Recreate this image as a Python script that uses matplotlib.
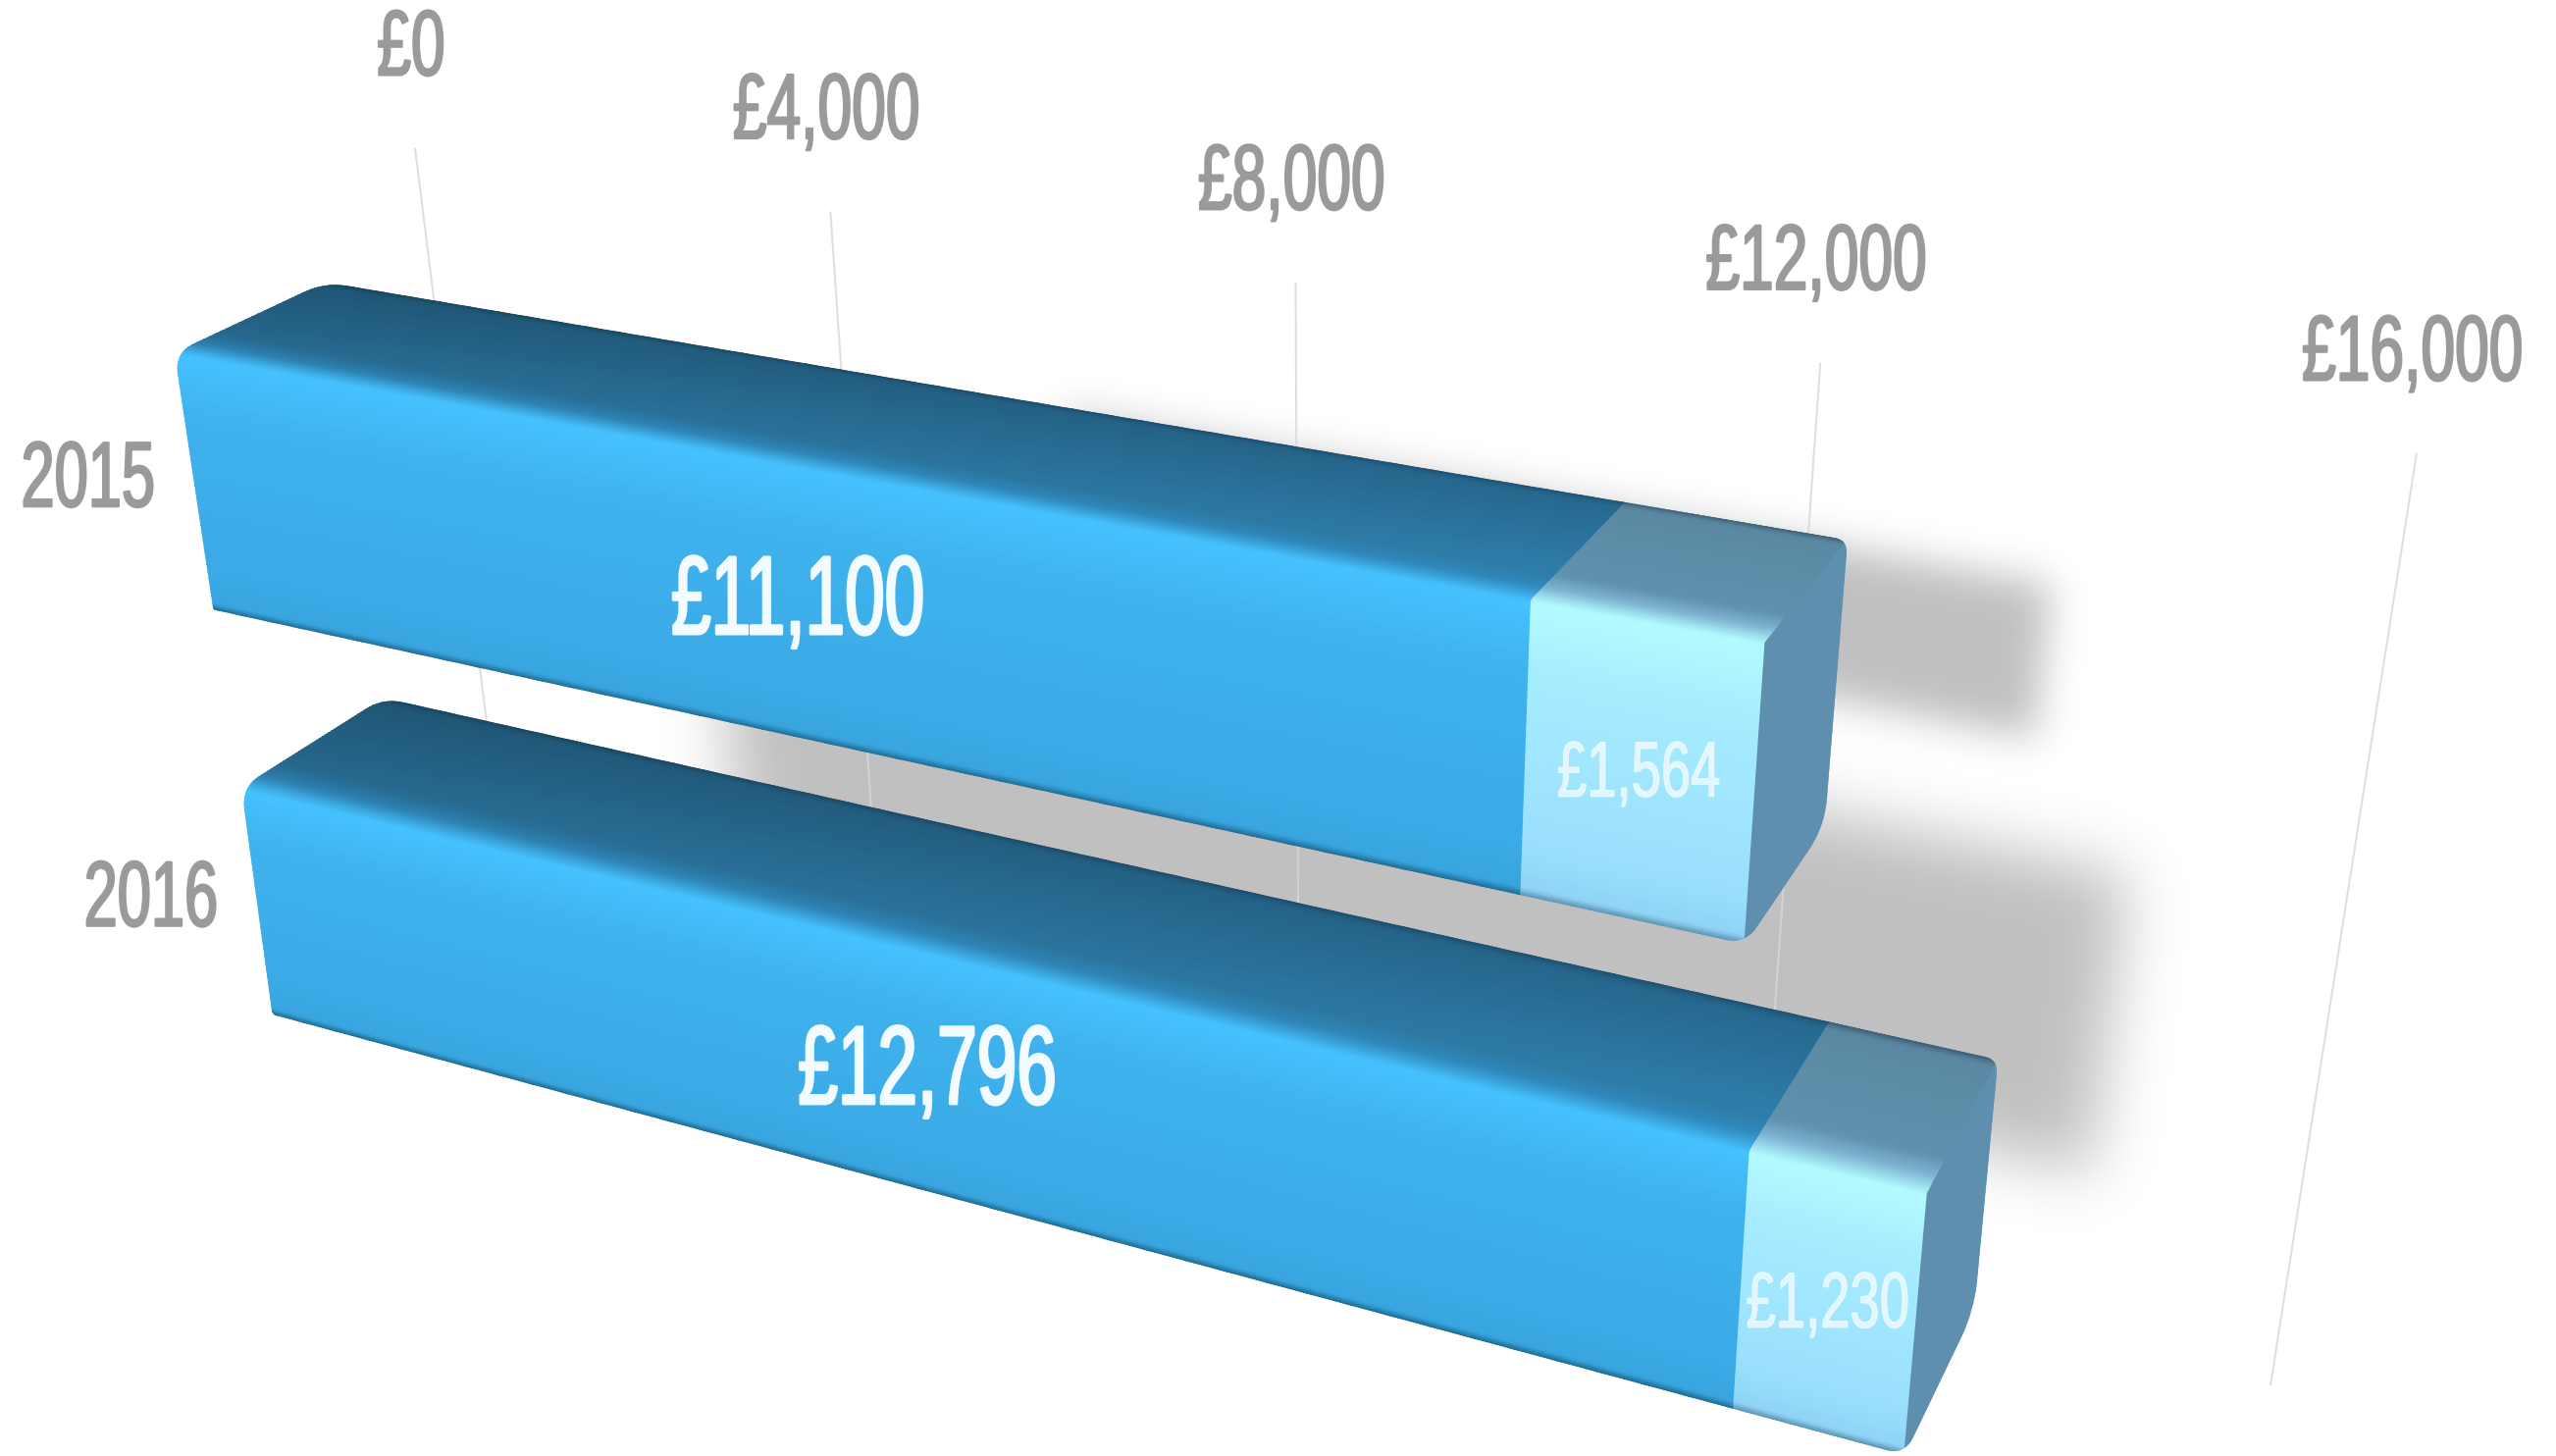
import numpy as np
import matplotlib
matplotlib.use("Agg")
import matplotlib.pyplot as plt
from matplotlib.colors import to_rgb
from matplotlib.patches import Polygon, PathPatch
from matplotlib.path import Path
from matplotlib.patheffects import AbstractPathEffect
from matplotlib.text import Text
from matplotlib.transforms import Affine2D, Bbox

# chart values
years = ["2015", "2016"]
base_values = [11100, 12796]
extra_values = [1564, 1230]
base_labels = ["£11,100", "£12,796"]
extra_labels = ["£1,564", "£1,230"]
axis_ticks = [0, 4000, 8000, 12000, 16000]
axis_labels = ["£0", "£4,000", "£8,000", "£12,000", "£16,000"]

W, H = 2605, 1484
FONT = ["Liberation Sans", "DejaVu Sans"]
GREY = "#9a9a9a"

# view: where the box corners of each bar land on screen (v, depth, row) -> pixel
# the order is v=0, v=base, v=total, front top / front bottom / back top
BAR_VIEW = [
    [(178, 358), (217, 625), (332, 285),
     (1562, 612), (1548, 912), (1650, 514),
     (1804, 653), (1774, 961), (1883, 554), (1866, 840)],
    [(246, 803), (278, 1036), (390, 708),
     (1785, 1168), (1764, 1440), (1859, 1051),
     (1969, 1213), (1937, 1484), (2036, 1082), (2018, 1328)],
]
# back wall: (value, t) -> pixel, t=0 at top of the gridlines
WALL_VIEW = [(0, 0, 423, 151), (16, 0, 2463, 462), (16, 1, 2314, 1412), (0, 1, 523, 953)]
# shadows on the wall: start value, overshoot past total, t range, blur
SHADOW_VIEW = [(6.0, 1.1, 0.180, 0.340, 20), (2.6, 0.5, 0.462, 0.805, 32)]
CORNER_RADII = [22, 22, 14, 30, 20, 3]

# colour profile across top face and front face
STOPS = [0, 0.02, 0.30, 0.35, 0.405, 0.54, 0.90, 0.985, 1.0]
DARK_COLORS = ["#1d4a66", "#235f82", "#2a739c", "#2f85b6", "#45c2ff", "#3fb3ee", "#3baae6", "#38a5df", "#1f6a90"]
LIGHT_COLORS = ["#3d5d72", "#5a88a2", "#6092ad", "#7db3d2", "#b3fbff", "#a7edff", "#99dffd", "#8fd4f6", "#5d93b0"]
SIDE_COLOR = "#5f8fae"


def fit_view(src, dst):
    # plain DLT, gives a projective matrix from model points to pixels
    rows = []
    for p, q in zip(src, dst):
        a = list(p) + [1.0]
        x, y = q[0] / 1000.0, q[1] / 1000.0
        zeros = [0.0] * len(a)
        rows.append(a + zeros + [-x * c for c in a])
        rows.append(zeros + a + [-y * c for c in a])
    vt = np.linalg.svd(np.array(rows))[2]
    return vt[-1].reshape(3, len(src[0]) + 1)


def project(m, *coords):
    coords = [np.asarray(c, dtype=float) for c in coords]
    coords = np.broadcast_arrays(*coords)
    pts = np.stack(list(coords) + [np.ones_like(coords[0])], axis=-1)
    out = pts @ m.T
    return out[..., 0] / out[..., 2] * 1000, out[..., 1] / out[..., 2] * 1000


def profile_colors(s, colors):
    rgb = np.array([to_rgb(c) for c in colors])
    return np.stack([np.interp(s, STOPS, rgb[:, i]) for i in range(3)], axis=-1)


class Condense(AbstractPathEffect):
    # the labels use a very narrow heavy face, squeeze and thicken around the anchor
    def __init__(self, sx, weight, text):
        super().__init__()
        self.sx = sx
        self.weight = weight
        self.text = text

    def draw_path(self, renderer, gc, tpath, affine, rgbFace=None):
        cx = self.text.get_transform().transform(self.text.get_position())[0]
        squeeze = Affine2D().translate(-cx, 0).scale(self.sx, 1).translate(cx, 0)
        gc0 = renderer.new_gc()
        gc0.copy_properties(gc)
        gc0.set_linewidth(self.weight)
        gc0.set_foreground(rgbFace)
        renderer.draw_path(gc0, tpath, affine + squeeze, rgbFace)
        gc0.restore()


class NarrowText(Text):
    sx = 1.0

    def get_window_extent(self, renderer=None, dpi=None):
        box = super().get_window_extent(renderer, dpi)
        width = box.width * self.sx
        ha = self.get_ha()
        if ha == "left":
            x0 = box.x0
        elif ha == "right":
            x0 = box.x1 - width
        else:
            x0 = (box.x0 + box.x1 - width) / 2
        return Bbox([[x0, box.y0], [x0 + width, box.y1]])


def label(ax, x, y, txt, size, color, sx, weight, alpha=1.0, zorder=10):
    t = NarrowText(x, y, txt, fontsize=size, color=color, ha="center", va="center",
                   family=FONT, zorder=zorder, alpha=alpha)
    t.sx = sx
    t.set_path_effects([Condense(sx, weight, t)])
    ax.add_artist(t)
    # unsqueezed text would stick out of the figure near the edges, anchor it on the inner side
    natural = Text.get_window_extent(t, fig.canvas.get_renderer())
    half = natural.width * sx / 2
    if natural.x0 < 0:
        t.set_ha("left")
        t.set_x(x - half)
    elif natural.x1 > W:
        t.set_ha("right")
        t.set_x(x + half)
    return t


def rounded_outline(points, radii):
    # closed path with the corners cut by small curves
    points = [np.array(p, dtype=float) for p in points]
    verts, codes = [], []
    n = len(points)
    for k in range(n):
        p, prev, nxt = points[k], points[k - 1], points[(k + 1) % n]
        a = p + (prev - p) / np.linalg.norm(prev - p) * radii[k]
        b = p + (nxt - p) / np.linalg.norm(nxt - p) * radii[k]
        verts += [a, p, b]
        codes += [Path.MOVETO if k == 0 else Path.LINETO, Path.CURVE3, Path.CURVE3]
    verts.append(verts[0])
    codes.append(Path.CLOSEPOLY)
    return Path(np.array(verts), codes)


def draw_face(ax, m, v0, v1, colors, zorder, clip, ramp=0.0):
    v = np.linspace(v0, v1, 40)
    s = np.linspace(0, 1, 120)
    vv, ss = np.meshgrid(v, s)
    # top face runs back to front for s<0.4, front face top to bottom after
    depth = np.clip((0.4 - ss) / 0.4, 0, 1)
    row = np.where(ss < 0.4, 1.0, (1 - ss) / 0.6)
    px, py = project(m, vv, depth, row)
    rgb = profile_colors(ss, colors)
    # the top face gets a bit brighter towards the far end
    lift = 1 + ramp * ((vv - v0) / (v1 - v0) - 0.5) * np.clip((0.38 - ss) / 0.1, 0, 1)
    rgb = np.clip(rgb * lift[..., None], 0, 1)
    mesh = ax.pcolormesh(px, py, rgb, shading="gouraud", zorder=zorder, antialiased=True)
    mesh.set_clip_path(clip)


def blur(a, sigma):
    n = int(sigma * 3)
    kernel = np.exp(-0.5 * (np.arange(-n, n + 1) / sigma) ** 2)
    kernel /= kernel.sum()
    a = np.apply_along_axis(lambda r: np.convolve(r, kernel, mode="same"), 0, a)
    return np.apply_along_axis(lambda r: np.convolve(r, kernel, mode="same"), 1, a)


fig = plt.figure(figsize=(W / 100, H / 100), dpi=100, facecolor="white")
ax = fig.add_axes([0, 0, 1, 1])
ax.set_axis_off()
ax.set_xlim(0, W)
ax.set_ylim(H, 0)

wall = fit_view([p[:2] for p in WALL_VIEW], [p[2:] for p in WALL_VIEW])

# shadows
step = 4
gx, gy = np.meshgrid(np.arange(0, W, step) + step / 2, np.arange(0, H, step) + step / 2)
grid = np.column_stack([gx.ravel(), gy.ravel()])
alpha = np.zeros(gx.shape)
for base, extra, (start, over, t0, t1, sigma) in zip(base_values, extra_values, SHADOW_VIEW):
    end = (base + extra) / 1000 + over
    sx, sy = project(wall, [start, end, end, start], [t0, t0, t1, t1])
    mask = Path(np.column_stack([sx, sy])).contains_points(grid).reshape(gx.shape)
    alpha = np.maximum(alpha, blur(mask.astype(float), sigma / step))
rgba = np.zeros(gx.shape + (4,))
rgba[..., 3] = alpha * 0.25
ax.imshow(rgba, extent=[0, W, H, 0], zorder=1, aspect="auto", interpolation="bilinear")
ax.set_xlim(0, W)
ax.set_ylim(H, 0)

# gridlines and axis labels
for tick, txt in zip(axis_ticks, axis_labels):
    lx, ly = project(wall, [tick / 1000, tick / 1000], [0, 1])
    ax.plot(lx, ly, color="#d8d8d8", lw=1.5, alpha=0.8, zorder=2, solid_capstyle="butt")
    label(ax, lx[0] - 4, ly[0] - 99, txt, 68, GREY, 0.66, 1.6)

# bars
for i, year in enumerate(years):
    b, e = base_values[i] / 1000, extra_values[i] / 1000
    t = b + e
    src = [(0, 0, 1), (0, 0, 0), (0, 1, 1),
           (b, 0, 1), (b, 0, 0), (b, 1, 1),
           (t, 0, 1), (t, 0, 0), (t, 1, 1), (t, 1, 0)]
    m = fit_view(src, BAR_VIEW[i])
    z = 3 + i

    # outline of the whole box, rounded a little
    ox, oy = project(m, [0, 0, t, t, t, 0], [0, 1, 1, 1, 0, 0], [1, 1, 1, 0, 0, 0])
    outline = PathPatch(rounded_outline(np.column_stack([ox, oy]), CORNER_RADII), transform=ax.transData)

    draw_face(ax, m, 0, b, DARK_COLORS, z, outline, ramp=0.2)
    draw_face(ax, m, b, t, LIGHT_COLORS, z, outline)
    sx, sy = project(m, [t, t, t, t], [0, 1, 1, 0], [1, 1, 0, 0])
    side = Polygon(np.column_stack([sx, sy]), closed=True, facecolor=SIDE_COLOR,
                   edgecolor=SIDE_COLOR, lw=1, zorder=z)
    ax.add_patch(side)
    side.set_clip_path(outline)

    x0, y0 = project(m, 0, 0, 0.5)
    # year label sits left of the front face
    label(ax, float(x0) - 108, float(y0) - 1, year, 68, GREY, 0.65, 1.6)
    cx, cy = project(m, b / 2, 0, 0.5)
    label(ax, float(cx) - 5, float(cy), base_labels[i], 82, "#f2fbff", 0.64, 2.0)
    cx, cy = project(m, b + e / 2, 0, 0.5)
    label(ax, float(cx), float(cy) + 3, extra_labels[i], 57.6, "#f2fbff", 0.68, 1.0, alpha=0.8)

fig.savefig("out.png", dpi=100, facecolor="white")
plt.close(fig)
